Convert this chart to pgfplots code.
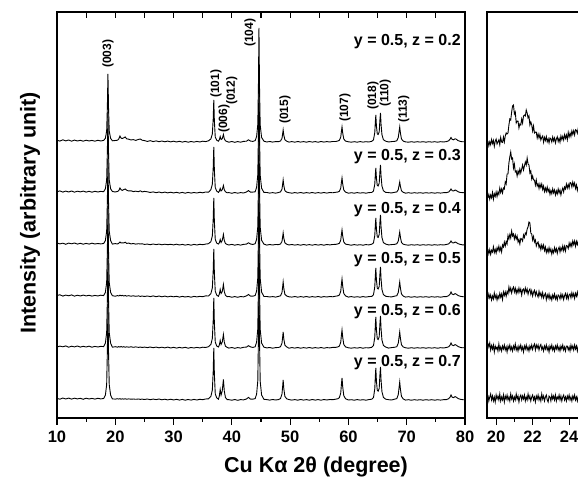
\documentclass[border=0pt]{standalone}
\usepackage{fontspec}
\setmainfont{Liberation Sans}
\usepackage{pgfplots}
\usepackage{pgfplotstable}
\pgfplotsset{compat=1.18}

\pgfplotstableread{
x A B C D E F
10.0 1.8 1.2 2.0 1.5 1.0 1.6
10.5 0.9 2.1 1.1 2.2 1.9 0.8
11.0 2.2 0.9 1.8 0.9 1.2 2.0
11.5 1.1 1.9 0.7 1.9 2.1 1.0
12.0 2.0 1.0 1.9 1.2 0.8 1.9
12.5 0.8 2.0 1.2 2.1 1.8 0.9
13.0 1.9 0.8 2.0 0.8 1.1 1.8
13.5 1.0 1.8 0.9 1.8 2.0 1.1
14.0 1.7 1.1 1.7 1.0 0.9 1.7
14.5 0.8 1.9 0.8 1.9 1.7 0.7
15.0 1.8 0.9 1.6 1.1 1.0 1.8
15.5 1.0 1.7 0.9 1.7 1.8 1.0
16.0 1.6 0.8 1.8 0.9 0.8 1.6
16.5 0.8 1.7 1.0 1.6 1.6 0.9
17.0 1.7 1.0 1.5 1.0 1.0 1.7
17.5 1.0 1.6 1.1 1.8 1.6 1.1
18.0 1.6 1.3 1.5 1.4 1.4 1.5
18.3 3.7 4.2 4.4 4.6 4.8 4.8
18.52 11 13 13.8 14.5 15.3 15.3
18.64 34.5 41 43.5 46 48.5 48.5
18.74 68 81 86 91 96 96
18.84 34.5 41 43.5 46 48.5 48.5
18.96 11 13 13.8 14.5 15.3 15.3
19.2 3.7 4.2 4.4 4.6 4.8 4.8
19.5 1.2 1.5 0.9 1.3 0.8 1.1
20.0 1.5 1.0 1.4 0.8 1.3 0.9
20.4 1.8 1.6 1.0 1.4 0.8 1.3
20.6 3.0 2.4 1.8 1.0 1.4 0.9
20.8 6.0 5.0 3.0 1.8 0.9 1.3
21.0 3.8 3.2 2.0 1.2 1.5 0.8
21.2 3.5 2.6 2.2 1.6 0.9 1.2
21.45 4.2 3.4 2.0 1.0 1.3 0.9
21.7 5.0 4.0 2.8 1.5 0.8 1.2
21.95 3.2 2.8 1.6 0.9 1.2 0.8
22.3 2.8 2.0 1.9 1.3 0.8 1.1
22.7 2.0 2.2 1.1 0.8 1.2 0.8
23.1 2.4 1.4 1.5 1.2 0.7 1.0
23.5 1.6 1.8 0.9 0.7 1.1 0.7
24.0 2.6 1.3 1.3 1.1 0.6 1.0
24.3 3.0 2.2 1.0 0.6 1.0 0.6
24.6 1.8 1.1 1.2 1.0 0.5 0.9
25.0 1.4 1.6 0.6 0.5 0.9 0.5
25.5 0.6 1.2 0.9 1.0 0.4 1.0
26.0 1.3 0.5 0.3 0.4 1.0 0.3
26.5 0.4 1.1 1.0 1.1 0.3 0.9
27.0 1.1 0.3 0.4 0.3 0.9 0.4
27.5 0.3 1.0 0.9 1.0 0.2 1.0
28.0 1.0 0.2 0.2 0.2 0.8 0.2
28.5 0.2 0.9 0.8 0.9 0.1 0.8
29.0 0.9 0.1 0.3 0.1 0.9 0.1
29.5 0.1 0.8 0.7 0.8 0.0 0.8
30.0 0.8 0.0 0.1 0.2 0.7 0.0
30.5 0.0 0.7 0.8 0.7 -0.1 0.7
31.0 0.7 -0.1 0.0 -0.1 0.6 -0.1
31.5 -0.1 0.6 0.6 0.6 0.0 0.6
32.0 0.6 -0.2 -0.1 0.0 0.7 -0.2
32.5 -0.2 0.6 0.5 0.5 -0.2 0.5
33.0 0.5 -0.1 -0.2 -0.2 0.5 -0.1
33.5 -0.1 0.5 0.6 0.6 0.0 0.6
34.0 0.6 0.0 0.0 0.1 0.6 0.0
34.5 0.0 0.7 0.7 0.6 0.1 0.7
35.0 0.8 0.2 0.3 0.3 0.8 0.3
35.5 0.4 1.0 0.9 1.1 0.5 1.0
36.0 1.2 0.8 1.3 1.0 1.3 1.2
36.4 3.1 3.3 3.4 3.4 3.5 3.6
36.65 8.1 8.8 9.0 9.1 9.5 9.9
36.8 23.1 25.3 25.9 26.4 27.5 28.6
36.9 42 46 47 48 50 52
37.0 21 23 23.5 24 25 26
37.15 5.0 5.5 5.6 5.8 6.0 6.2
37.4 1.8 1.9 1.9 1.9 2.0 2.1
37.7 0.8 0.6 0.9 0.7 1.0 0.8
37.85 2.3 1.9 2.3 3.0 3.0 4.0
38.0 5.5 4.5 5.5 7.5 7.5 10.5
38.15 2.5 2.0 2.5 3.5 3.5 5.0
38.35 3.2 3.2 4.5 5.4 5.9 9.0
38.55 7.5 7.5 10.5 12.5 13.5 20.5
38.7 3.2 3.2 4.5 5.4 5.9 9.0
38.9 1.2 1.2 1.5 1.7 1.8 2.5
39.2 0.4 0.2 0.5 0.3 0.6 0.4
39.5 -0.2 0.4 0.0 0.5 -0.1 0.3
40.0 0.5 -0.3 0.6 -0.2 0.5 -0.2
40.5 -0.3 0.5 -0.2 0.4 -0.3 0.5
41.0 0.4 -0.2 0.5 -0.3 0.4 -0.3
41.5 -0.2 0.4 -0.1 0.5 -0.1 0.4
42.0 0.6 0.0 0.6 0.1 0.7 0.1
42.5 0.8 1.0 0.9 1.1 0.9 1.0
42.85 2.2 2.4 2.2 2.5 2.3 2.6
43.2 0.9 0.8 1.0 0.9 1.1 0.9
43.6 0.6 0.9 0.5 0.8 0.6 0.8
44.0 1.4 1.2 1.3 1.5 1.2 1.4
44.25 5.6 5.8 5.8 6.0 6.0 6.0
44.45 17.6 18.5 18.5 19.3 19.3 19.3
44.56 57 60 60 62.5 62.5 62.5
44.65 114 120 120 125 125 125
44.74 57 60 60 62.5 62.5 62.5
44.86 17.1 18 18 18.8 18.8 18.8
45.1 4.6 4.8 4.8 5.0 5.0 5.0
45.5 0.8 0.6 0.9 0.5 0.8 0.7
46.0 0.0 0.5 -0.1 0.5 0.1 0.4
46.5 0.5 -0.1 0.5 0.0 0.5 -0.1
47.0 -0.1 0.4 0.0 0.4 -0.2 0.5
47.5 0.4 -0.2 0.5 -0.1 0.4 0.0
48.0 0.3 0.5 0.4 0.6 0.5 0.4
48.35 1.0 1.1 1.0 1.2 1.3 1.5
48.6 3.6 3.9 3.6 4.5 4.8 6.0
48.72 8.4 9.1 8.4 10.5 11.2 14
48.8 12 13 12 15 16 20
48.92 6.6 7.2 6.6 8.3 8.8 11
49.1 2.2 2.3 2.2 2.7 2.9 3.6
49.4 0.8 0.9 0.8 1.0 1.1 1.2
49.8 -0.1 0.3 0.0 0.2 -0.2 0.4
50.3 0.4 -0.2 0.5 -0.1 0.4 -0.1
50.8 -0.2 0.4 -0.1 0.5 -0.1 0.4
51.3 0.5 -0.1 0.4 -0.2 0.5 -0.2
51.8 -0.1 0.5 -0.2 0.4 -0.2 0.5
52.3 0.4 -0.2 0.5 -0.1 0.4 -0.1
52.8 -0.2 0.4 -0.1 0.5 -0.1 0.4
53.3 0.5 -0.1 0.4 -0.2 0.5 -0.2
53.8 -0.1 0.5 -0.2 0.4 -0.2 0.5
54.3 0.4 -0.2 0.5 -0.1 0.4 -0.1
54.8 -0.2 0.4 -0.1 0.5 -0.1 0.4
55.3 0.5 -0.1 0.4 -0.2 0.5 -0.2
55.8 -0.1 0.5 -0.2 0.4 -0.2 0.5
56.3 0.4 -0.1 0.5 0.0 0.4 0.0
56.8 0.0 0.5 0.1 0.5 0.1 0.5
57.3 0.5 0.2 0.5 0.2 0.6 0.3
57.8 0.5 0.7 0.6 0.8 0.6 0.8
58.2 1.0 1.0 1.1 1.2 1.1 1.3
58.45 1.8 1.8 1.8 2.0 2.0 2.4
58.68 4.8 4.8 4.8 5.8 5.8 7.0
58.8 10.8 10.8 10.8 13 13 15.8
58.9 15 15 15 18 18 22
59.02 9 9 9 10.8 10.8 13.2
59.2 3 3 3 3.6 3.6 4.4
59.5 0.9 0.9 0.9 1.1 1.1 1.3
60.0 0.2 -0.2 0.3 -0.1 0.2 0.0
60.5 -0.2 0.3 -0.2 0.4 -0.2 0.3
61.0 0.3 -0.2 0.4 -0.2 0.3 -0.2
61.5 -0.2 0.4 -0.1 0.3 -0.1 0.4
62.0 0.4 -0.1 0.3 -0.2 0.4 -0.1
62.5 -0.1 0.3 -0.2 0.4 -0.2 0.3
63.0 0.3 -0.2 0.4 -0.1 0.3 -0.2
63.5 0.0 0.4 0.1 0.4 0.1 0.4
64.0 0.7 0.5 0.8 0.6 0.7 0.8
64.3 2.1 2.0 2.1 2.2 2.4 2.4
64.52 9.5 8.8 9.5 10.2 10.9 11.2
64.62 20.3 18.8 20.3 21.8 23.3 24
64.7 27 25 27 29 31 32
64.8 16.2 15 16.2 17.4 18.6 19.2
64.95 8.1 7.5 8.1 8.7 9.3 9.6
65.1 7.5 7.0 7.6 8.0 8.5 8.8
65.28 10.2 9.8 10.5 10.5 11.2 11.6
65.4 21.8 21 22.5 22.5 24 24.8
65.5 29 28 30 30 32 33
65.6 17.4 16.8 18 18 19.2 19.8
65.75 7.3 7.0 7.5 7.5 8.0 8.3
66.0 2.3 2.2 2.4 2.4 2.6 2.6
66.4 0.8 0.6 0.9 0.7 0.9 0.8
66.9 0.0 0.4 0.1 0.3 -0.1 0.3
67.4 0.4 0.0 0.4 0.1 0.4 0.0
67.9 0.6 0.7 0.6 0.8 0.7 0.8
68.3 1.2 1.0 1.2 1.3 1.3 1.4
68.55 4.5 3.3 3.9 4.5 4.8 5.4
68.7 10.8 7.9 9.4 10.8 11.5 13
68.8 15 11 13 15 16 18
68.92 9 6.6 7.8 9 9.6 10.8
69.1 3 2.2 2.6 3 3.2 3.6
69.4 0.9 0.7 0.8 0.9 1.0 1.1
69.8 0.1 -0.2 0.2 -0.1 0.2 -0.1
70.3 -0.2 0.3 -0.2 0.3 -0.2 0.3
70.8 0.3 -0.2 0.3 -0.2 0.3 -0.2
71.3 -0.2 0.3 -0.1 0.3 -0.2 0.3
71.8 0.3 -0.1 0.3 -0.2 0.3 -0.1
72.3 -0.1 0.3 -0.2 0.3 -0.1 0.3
72.8 0.3 -0.2 0.3 -0.1 0.3 -0.2
73.3 -0.2 0.3 -0.1 0.3 -0.2 0.3
73.8 0.3 -0.1 0.3 -0.2 0.3 -0.1
74.3 -0.1 0.3 -0.2 0.3 -0.1 0.3
74.8 0.3 -0.2 0.3 -0.1 0.3 -0.2
75.3 -0.2 0.3 -0.1 0.3 -0.2 0.3
75.8 0.3 -0.1 0.3 -0.2 0.3 -0.1
76.3 0.0 0.3 0.0 0.3 0.0 0.3
76.8 0.4 0.3 0.5 0.4 0.5 0.4
77.2 1.2 1.0 1.1 1.3 1.2 1.3
77.45 3.0 2.6 2.6 3.0 3.0 3.0
77.6 4.5 4.0 4.0 5.0 5.0 5.0
77.8 2.6 2.3 2.3 2.8 2.8 2.8
78.05 2.2 2.0 2.0 2.4 2.4 2.4
78.3 3.2 3.0 3.0 3.4 3.4 3.4
78.5 2.8 2.5 2.5 2.8 2.8 2.8
78.8 1.4 1.3 1.3 1.5 1.5 1.5
79.2 0.6 0.5 0.6 0.7 0.6 0.7
79.6 0.2 0.4 0.1 0.3 0.2 0.3
80.0 0.3 0.1 0.3 0.2 0.4 0.2
}\mainxrd

\pgfplotstableread{
x A B C D E F
19.55 1 -5 1 -2 5 3
19.60 -3.9 -1.5 -3.8 3 1 -3
19.65 0.2 -6.2 0.4 -1 5 1
19.70 -2.7 -2 -4.4 2 -2 4
19.75 2.4 -4.8 -0.2 -3 2.5 -2
19.80 -1.5 0.5 -2 1 -1 2
19.85 1.6 -6.2 3.2 -2 3 -3
19.90 -4.3 -0.8 -2.6 4 -4 1
19.95 0.8 -3.4 0.7 -1 2 -4
20.00 2.9 1 -3 2 -1 3
20.05 -2 -3.5 2.3 -3 1 -1
20.10 0.1 1 -0.5 1.3 -3 2
20.15 2.2 -1.5 3.8 -1.5 4 -2
20.20 -2.7 5 -1 3.6 -2 4
20.25 4.5 0.5 2.5 -0.2 1 -3
20.30 0 4 -2 3 -3 1
20.35 -0.5 0 5 -2.5 2 -2
20.40 5 5 3 5 -1 3
20.45 0 4 8 1.5 3 -4
20.50 6 11 4 5 -2 2
20.55 9 9 8.5 0.8 1 -1
20.60 8 19 6 5.5 -4 3
20.65 9 19 14.5 3.2 2 -2
20.70 17 30 11 10 -1 1
20.75 23 36 15.5 5.5 3 -3
20.80 22 41 12 9 -2 4
20.85 30 34 19 4 1 -1
20.90 36 35 14 8 -3 2
20.95 37 25 16 10 2 -3
21.00 28 29 11 5 -1 1
21.05 30 21 15 8.8 4 -2
21.10 19 22 11 3.6 -2 4
21.15 21 17 14 7.4 1 -1
21.20 21 22 8 4.2 -3 2
21.25 14 19 10.5 9 2 -4
21.30 18 24 6 5 -1 1
21.35 17 20 11.5 8 3 3
21.40 23 24 11 2 -2 -2
21.45 19 28 9 7 1 2
21.50 26 23 15 8 -4 -1
21.55 27 27 12.5 4 2 3
21.60 26 31 17 9 -1 -3
21.65 32 28 15.5 5 3 1
21.70 29 35 21 8 -2 -2
21.75 24 29 23 2.7 1 4
21.80 26 28 28 6.3 -3 -1
21.85 17 20 27 8 2 2
21.90 20 22 17 2.7 -1 -3
21.95 17 14 16 6.3 3 1
22.00 11 17 10 1 -1.5 3
22.05 16 13 13.5 4.8 2 -2
22.10 9 13 8 6.7 4 1
22.15 10 8 10 1.5 -2 -4
22.20 10 13 4 5.3 3 2
22.25 4 7 7 2.2 0 -1
22.30 8 9 8 0 3 3
22.35 4 4.5 2.5 5.7 -2 -2
22.40 7.5 9 5 1.3 1.8 1
22.45 2 5.5 0.5 4 3.5 -3
22.50 4.5 9 5 -0.3 -1.5 4
22.55 6 3.5 1.5 4.3 1 -1
22.60 -0.2 7 5 -1 -3 2
22.65 4.6 1.5 -0.5 1.8 2 -3
22.70 1.5 5 3 3.6 -1 1
22.75 5.4 1.5 -2.5 -2.6 3 3
22.80 0.3 6 1 2.2 -2 -2
22.85 3.2 1.5 -2.3 -1 1 -4
22.90 -0.9 4 2.4 3 -4 2
22.95 4 -1.3 -1.8 -2 2 1
23.00 3 2.5 1 1 -1 -3
23.05 0 -0.7 -4 -3 3 3
23.10 5 4.2 0.1 2 -2 -1
23.15 1 0.1 -2.8 -1 1 2
23.20 4 3 2.3 3 -3 -2
23.25 -1 -2 -1.6 -2 2 3
23.30 3 2 1.5 1 -1 -3
23.35 5.2 -1 -3.4 -3 3 1
23.40 0.4 4 0.7 2 -2 -1
23.45 3.6 0 2.8 1 1 3
23.50 -0.2 3 -2 -2 -3 -2
23.55 6 -2 2.3 3 2 2
23.60 2.3 2.2 -0.4 -0.8 -1 -3
23.65 5.6 5 4 2.3 3 1
23.70 2 1 -0.7 -2.6 -2 3
23.75 7.3 6 3.6 1.5 1 -2
23.80 3.6 4 -1 3.6 -3 1
23.85 7 9 4.5 -1.3 2 -3
23.90 2.3 5 4 2.8 2 2
23.95 9.6 8.5 1.5 -2.1 -2 -1
24.00 5 5 7 2 1 3
24.05 8.8 10.5 3.5 3.1 -3 -2
24.10 5.5 10 7 -0.8 3 1
24.15 11 6 3.5 4.3 -1 -3
24.20 7.5 11 9 0.4 2 2
24.25 11.2 7 5.5 3.5 -2 -1
24.30 7 10 9 -1.4 3 3
24.35 12.3 4.5 3.8 3.7 -1 -2
24.40 11.6 8 8.6 0.8 2 1
24.45 8.8 2.5 5.4 4.9 -3 -3
24.50 14 6.2 9.2 0 2 2
24.55 10 4 4 3 -1 -1
}\zoomxrd

\begin{document}
\begin{tikzpicture}[x=1pt,y=1pt]
\useasboundingbox (0,0) rectangle (578,481);
\clip (0,0) rectangle (578,481);

\pgfplotsset{
  xrdaxis/.style={
    scale only axis, height=406pt, ymin=0, ymax=406, ytick=\empty,
    xtick pos=bottom, tick align=outside,
    major tick length=7pt, minor tick length=4pt,
    axis line style={line width=1.3pt},
    every tick/.style={black, line width=1.1pt},
    tick label style={font=\bfseries\fontsize{16.5}{18}\selectfont},
    xticklabel style={yshift=-2pt},
    /pgf/number format/assume math mode=true,
  },
  trace/.style={black, line width=0.9pt, no markers},
}

\begin{axis}[xrdaxis, at={(57pt,63pt)}, anchor=south west, width=408pt,
  xmin=10, xmax=80, xtick={10,20,...,80}, minor xtick={15,25,...,75}]
\addplot[trace] table[x=x, y expr=\thisrow{F}+18] {\mainxrd};
\addplot[trace] table[x=x, y expr=\thisrow{E}+70] {\mainxrd};
\addplot[trace] table[x=x, y expr=\thisrow{D}+121] {\mainxrd};
\addplot[trace] table[x=x, y expr=\thisrow{C}+173] {\mainxrd};
\addplot[trace] table[x=x, y expr=\thisrow{B}+225] {\mainxrd};
\addplot[trace] table[x=x, y expr=\thisrow{A}+276] {\mainxrd};

\begin{scope}[every node/.style={font=\bfseries\fontsize{16}{18}\selectfont, anchor=east, inner sep=0pt}]
\node at (axis cs:79.3,376) {y = 0.5, z = 0.2};
\node at (axis cs:79.3,261) {y = 0.5, z = 0.3};
\node at (axis cs:79.3,208) {y = 0.5, z = 0.4};
\node at (axis cs:79.3,158) {y = 0.5, z = 0.5};
\node at (axis cs:79.3,106) {y = 0.5, z = 0.6};
\node at (axis cs:79.3,55) {y = 0.5, z = 0.7};
\end{scope}

\begin{scope}[every node/.style={font=\bfseries\fontsize{12}{14}\selectfont, rotate=90, anchor=west, inner sep=0pt}]
\node at (axis cs:18.75,350) {(003)};
\node at (axis cs:37.28,320) {(101)};
\node at (axis cs:38.65,285) {(006)};
\node at (axis cs:40.0,313) {(012)};
\node at (axis cs:43.1,371) {(104)};
\node at (axis cs:49.1,294) {(015)};
\node at (axis cs:59.4,296) {(107)};
\node at (axis cs:64.2,308) {(018)};
\node at (axis cs:66.3,311) {(110)};
\node at (axis cs:69.5,295) {(113)};
\end{scope}
\end{axis}

% top inward ticks of the main panel
\begin{axis}[scale only axis, at={(57pt,63pt)}, anchor=south west, width=408pt, height=406pt,
  xmin=10, xmax=80, ymin=0, ymax=406,
  axis x line*=top, axis y line=none,
  axis line style={-, line width=1.3pt},
  xtick={10,15,...,80}, xticklabels={}, tick align=inside,
  major tick length=6pt, every tick/.style={black, line width=1.1pt}]
\addplot[draw=none] coordinates {(10,0)};
\end{axis}

\begin{axis}[xrdaxis, at={(487pt,63pt)}, anchor=south west, width=100.375pt,
  xmin=19.5, xmax=25, xtick={20,22,24}, minor xtick={21,23}]
\addplot[trace] table[x=x, y expr=\thisrow{F}+20] {\zoomxrd};
\addplot[trace] table[x=x, y expr=\thisrow{E}+70] {\zoomxrd};
\addplot[trace] table[x=x, y expr=\thisrow{D}+121] {\zoomxrd};
\addplot[trace] table[x=x, y expr=\thisrow{C}+168] {\zoomxrd};
\addplot[trace] table[x=x, y expr=\thisrow{B}+225] {\zoomxrd};
\addplot[trace] table[x=x, y expr=\thisrow{A}+276] {\zoomxrd};
\end{axis}

\node[rotate=90, font=\bfseries\fontsize{21.5}{24}\selectfont] at (30,268) {Intensity (arbitrary unit)};
\node[font=\bfseries\fontsize{21.5}{24}\selectfont] at (316,14) {Cu Kα 2θ (degree)};
\end{tikzpicture}
\end{document}
